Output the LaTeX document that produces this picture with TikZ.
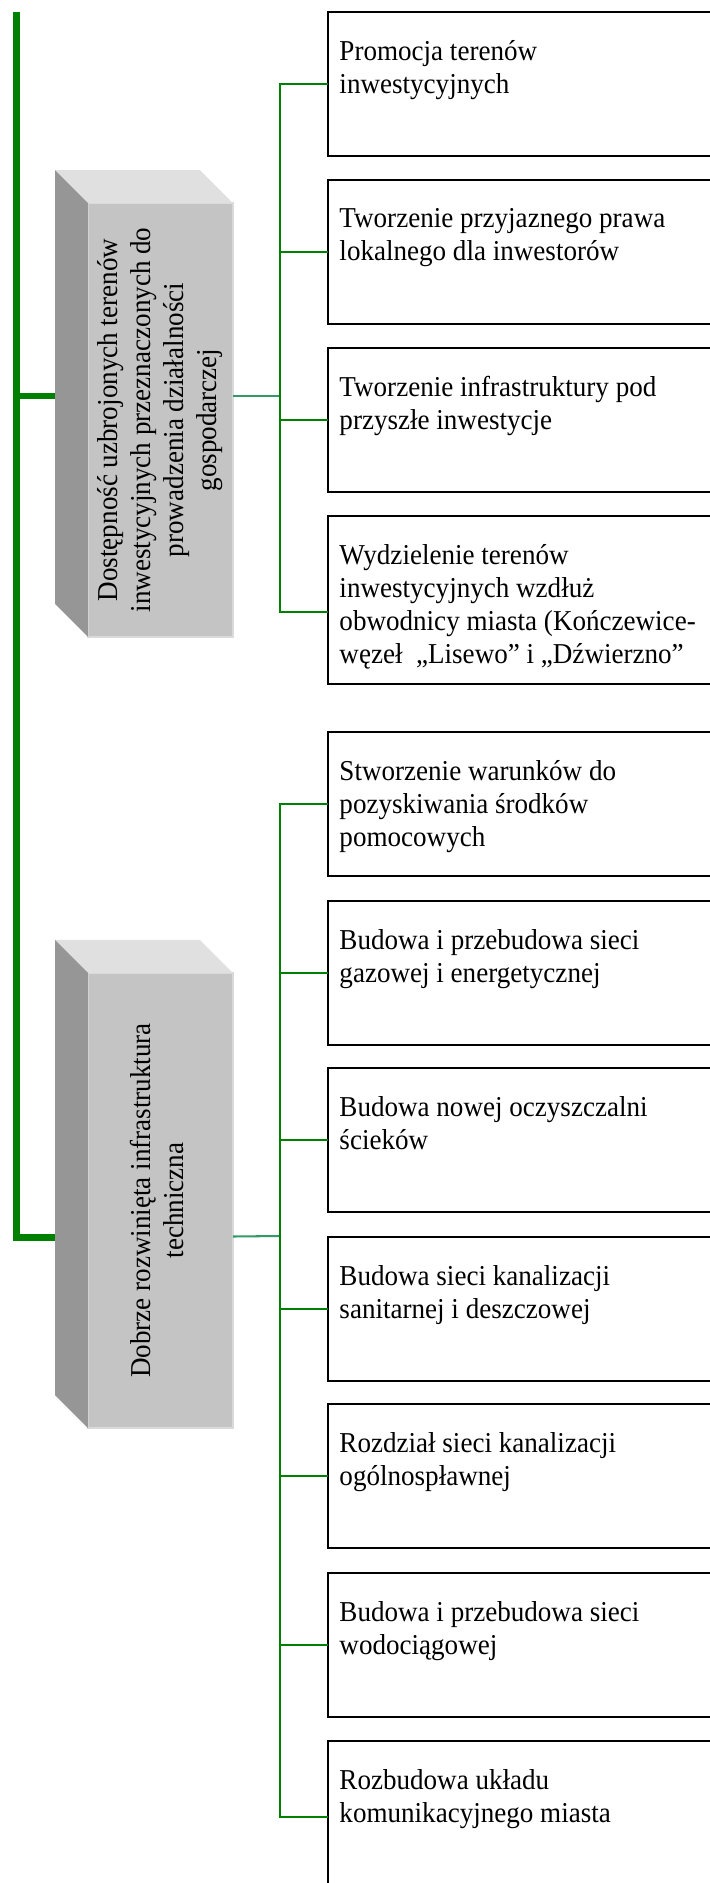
\documentclass[tikz,border=0pt]{standalone}
\usepackage{fontspec}
\setmainfont{Liberation Serif}[FakeStretch=0.94]
\usepackage{graphicx}
\usepackage{tikz}
\usetikzlibrary{positioning}
\usetikzlibrary{calc}
\definecolor{trunkgreen}{RGB}{0,128,0}
\definecolor{stubgreen}{RGB}{51,153,102}
\definecolor{facefront}{RGB}{196,196,196}
\definecolor{facetop}{RGB}{224,224,224}
\definecolor{faceside}{RGB}{150,150,150}
\def\boxfont{\fontsize{12}{13.8}\selectfont}

\tikzset{
  itembox/.style={draw=black, line width=0.85pt, anchor=north west, inner sep=0pt, outer sep=0pt,
    minimum width=165pt, minimum height=60pt},
  itemtext/.style={anchor=north west, inner sep=0pt, align=left, font=\boxfont,
    execute at begin node={\strut}},
  frontface/.style={fill=facefront, draw=facetop!80!facefront, line width=0.6pt, inner sep=0pt,
    outer sep=0pt, minimum width=60.4pt, font=\boxfont},
  trunk/.style={trunkgreen, line width=2.8pt},
  stub/.style={stubgreen, line width=0.85pt},
  branch/.style={trunkgreen, line width=0.85pt}
}

\begin{document}
\begin{tikzpicture}[x=0.41667pt, y=-0.41667pt]
\useasboundingbox (0,0) rectangle (709,1883);

\node[frontface, minimum height=180.8pt] (d1) at (160.5,420) {\rotatebox{90}{\begin{tabular}{@{}c@{}}Dostępność uzbrojonych terenów\\inwestycyjnych przeznaczonych do\\prowadzenia działalności\\gospodarczej\end{tabular}}};
\fill[facetop] ($(d1.north west)+(-33,-33)$) -- ($(d1.north east)+(-33,-33)$) -- (d1.north east) -- (d1.north west) -- cycle;
\fill[faceside] ($(d1.north west)+(-33,-33)$) -- (d1.north west) -- (d1.south west) -- ($(d1.south west)+(-33,-33)$) -- cycle;

\node[frontface, minimum height=189.6pt] (d2) at (160.5,1200.5) {\rotatebox{90}{\begin{tabular}{@{}c@{}}Dobrze rozwinięta infrastruktura\\techniczna\end{tabular}}};
\fill[facetop] ($(d2.north west)+(-33,-33)$) -- ($(d2.north east)+(-33,-33)$) -- (d2.north east) -- (d2.north west) -- cycle;
\fill[faceside] ($(d2.north west)+(-33,-33)$) -- (d2.north west) -- (d2.south west) -- ($(d2.south west)+(-33,-33)$) -- cycle;

\node[itembox] (a1) at (328,12) {};
\node[itembox] (a2) at (328,180) {};
\node[itembox] (a3) at (328,348) {};
\node[itembox, minimum height=70pt] (a4) at (328,516) {};
\node[itembox] (a5) at (328,732) {};
\node[itembox] (a6) at (328,901) {};
\node[itembox] (a7) at (328,1068) {};
\node[itembox] (a8) at (328,1237) {};
\node[itembox] (a9) at (328,1404) {};
\node[itembox] (a10) at (328,1573) {};
\node[itembox, minimum height=63pt] (a11) at (328,1741) {};

\node[itemtext] (t1) at ($(a1.north west)+(11,28)$) {Promocja terenów\\inwestycyjnych};
\node[itemtext] (t2) at ($(a2.north west)+(11,28)$) {Tworzenie przyjaznego prawa\\lokalnego dla inwestorów};
\node[itemtext] (t3) at ($(a3.north west)+(11,28)$) {Tworzenie infrastruktury pod\\przyszłe inwestycje};
\node[itemtext] (t4) at ($(a4.north west)+(11,28)$) {Wydzielenie terenów\\inwestycyjnych wzdłuż\\obwodnicy miasta (Kończewice-\\węzeł~ „Lisewo” i „Dźwierzno”};
\node[itemtext] (t5) at ($(a5.north west)+(11,28)$) {Stworzenie warunków do\\pozyskiwania środków\\pomocowych};
\node[itemtext] (t6) at ($(a6.north west)+(11,28)$) {Budowa i przebudowa sieci\\gazowej i energetycznej};
\node[itemtext] (t7) at ($(a7.north west)+(11,28)$) {Budowa nowej oczyszczalni\\ścieków};
\node[itemtext] (t8) at ($(a8.north west)+(11,28)$) {Budowa sieci kanalizacji\\sanitarnej i deszczowej};
\node[itemtext] (t9) at ($(a9.north west)+(11,28)$) {Rozdział sieci kanalizacji\\ogólnospławnej};
\node[itemtext] (t10) at ($(a10.north west)+(11,28)$) {Budowa i przebudowa sieci\\wodociągowej};
\node[itemtext] (t11) at ($(a11.north west)+(11,28)$) {Rozbudowa układu\\komunikacyjnego miasta};

\coordinate (root) at (16.5,12);
\coordinate (j1) at (280,396);
\coordinate (j2) at (280,1236);

\draw[trunk] (root) |- ($(d2.west)+(-33,37)$);
\draw[trunk] (root) |- ($(d1.west)+(-33,-24)$);

\draw[stub] ($(d1.east)+(0,-24)$) -- (j1);
\draw[stub] ($(d2.east)+(0,36)$) -- (j2);

\draw[branch] (j1) |- (a1.west);
\draw[branch] (j1) |- (a2.west);
\draw[branch] (j1) |- (a3.west);
\draw[branch] (j1) |- ($(a4.west)+(0,12)$);
\draw[branch] (j2) |- (a5.west);
\draw[branch] (j2) |- (a6.west);
\draw[branch] (j2) |- (a7.west);
\draw[branch] (j2) |- (a8.west);
\draw[branch] (j2) |- (a9.west);
\draw[branch] (j2) |- (a10.west);
\draw[branch] (j2) |- (a11.west);
\end{tikzpicture}
\end{document}
